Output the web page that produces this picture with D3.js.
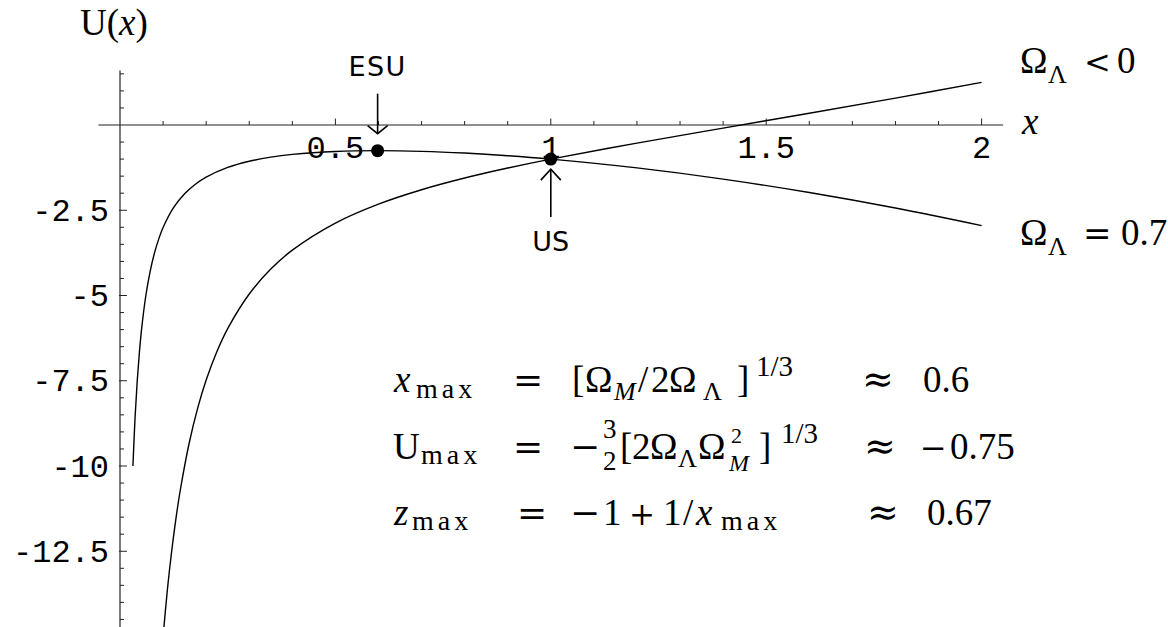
<!DOCTYPE html>
<html>
<head>
<meta charset="utf-8">
<script src="https://cdn.jsdelivr.net/npm/d3@7"></script>
<style>
  html, body { margin: 0; padding: 0; background: #fff; }
  svg { display: block; }
  .tick-label { font-family: "Liberation Mono", "DejaVu Sans Mono", monospace; font-size: 32px; fill: #000; }
  .math { font-family: "Liberation Serif", "DejaVu Serif", serif; font-size: 37px; fill: #000; }
  .note { font-family: "DejaVu Sans", sans-serif; font-size: 27px; fill: #000; }
</style>
</head>
<body>
<svg id="chart" width="1168" height="627"></svg>
<script>
// Effective potential U(x) = -Ω_M/x - Ω_Λ x², sampled values for two cosmologies.

// Ω_M = 0.3, Ω_Λ = 0.7
const xLambdaPos = [0.03, 0.035, 0.04, 0.045, 0.05, 0.06, 0.07, 0.08, 0.09, 0.1, 0.125, 0.15, 0.175, 0.2,
                    0.25, 0.3, 0.35, 0.4, 0.5, 0.6, 0.7, 0.8, 0.9, 1.0, 1.2, 1.4, 1.6, 1.8, 2.0];
const uLambdaPos = [-10.0, -8.57, -7.5, -6.67, -6.0, -5.0, -4.29, -3.755, -3.339, -3.007, -2.411, -2.016, -1.736, -1.528,
                    -1.244, -1.063, -0.943, -0.862, -0.775, -0.752, -0.772, -0.823, -0.9, -1.0, -1.258, -1.586, -1.98, -2.435, -2.95];

// Ω_M = 1.5, Ω_Λ = -0.5
const xLambdaNeg = [0.1, 0.11, 0.12, 0.13, 0.14, 0.16, 0.18, 0.2, 0.225, 0.25, 0.3, 0.35, 0.4, 0.5,
                    0.6, 0.7, 0.8, 0.9, 1.0, 1.2, 1.4, 1.6, 1.8, 2.0];
const uLambdaNeg = [-14.995, -13.63, -12.493, -11.53, -10.704, -9.362, -8.317, -7.48, -6.641, -5.969, -4.955, -4.225, -3.67, -2.875,
                    -2.32, -1.898, -1.555, -1.262, -1.0, -0.53, -0.091, 0.343, 0.787, 1.25];

// Marked states: Einstein static universe and the present universe
const markX = [0.598, 1.0];
const markU = [-0.752, -1.0];
const markNames = ["ESU", "US"];

// Axes
const xMajorTicks = [0.5, 1, 1.5, 2];
const xMajorLabels = ["0.5", "1", "1.5", "2"];
const yMajorTicks = [-2.5, -5, -7.5, -10, -12.5];
const yMajorLabels = ["-2.5", "-5", "-7.5", "-10", "-12.5"];

const svg = d3.select("#chart");
const W = 1168, H = 627;

const x = d3.scaleLinear().domain([0, 2]).range([120, 981.6]);
const y = d3.scaleLinear().domain([0, -10]).range([125, 466]);

const xMinor = d3.range(1, 21).map(i => i / 10).filter(v => !xMajorTicks.some(m => Math.abs(m - v) < 1e-9));
const yMinor = d3.range(-29, 4).map(i => i / 2).filter(v => v !== 0 && !yMajorTicks.includes(v));

// ---- x axis (ticks point up, labels below) ----
const gx = svg.append("g").attr("transform", `translate(0,${y(0)})`);
gx.append("line").attr("x1", x(-0.05)).attr("x2", x(2.05)).attr("stroke", "#222").attr("stroke-width", 1.2);
gx.selectAll(".xminor").data(xMinor).join("line")
  .attr("x1", d => x(d)).attr("x2", d => x(d)).attr("y1", 0).attr("y2", -4)
  .attr("stroke", "#222").attr("stroke-width", 1);
gx.selectAll(".xmajor").data(xMajorTicks).join("line")
  .attr("x1", d => x(d)).attr("x2", d => x(d)).attr("y1", 0).attr("y2", -6.5)
  .attr("stroke", "#222").attr("stroke-width", 1);

// ---- y axis (ticks point right, labels left) ----
const gy = svg.append("g").attr("transform", `translate(${x(0)},0)`);
gy.append("line").attr("y1", y(1.6)).attr("y2", H).attr("stroke", "#222").attr("stroke-width", 1.2);
gy.selectAll(".yminor").data(yMinor).join("line")
  .attr("y1", d => y(d)).attr("y2", d => y(d)).attr("x1", 0).attr("x2", 4)
  .attr("stroke", "#222").attr("stroke-width", 1);
gy.selectAll(".ymajor").data(yMajorTicks).join("line")
  .attr("y1", d => y(d)).attr("y2", d => y(d)).attr("x1", -1).attr("x2", 7)
  .attr("stroke", "#222").attr("stroke-width", 1);

// ---- curves ----
svg.append("clipPath").attr("id", "plotClip")
  .append("rect").attr("x", 0).attr("y", 0).attr("width", W).attr("height", H);

const line = d3.line().x(d => x(d[0])).y(d => y(d[1])).curve(d3.curveCatmullRom.alpha(0.5));
const curves = [d3.zip(xLambdaPos, uLambdaPos), d3.zip(xLambdaNeg, uLambdaNeg)];
svg.append("g").attr("clip-path", "url(#plotClip)")
  .selectAll("path").data(curves).join("path")
  .attr("d", line).attr("fill", "none").attr("stroke", "#000").attr("stroke-width", 1.4);

// ---- tick labels (drawn over the curves) ----
svg.selectAll(".xl").data(xMajorTicks).join("text")
  .attr("class", "tick-label").attr("text-anchor", "middle")
  .attr("x", d => x(d)).attr("y", y(0) + 33)
  .text((d, i) => xMajorLabels[i]);
svg.selectAll(".yl").data(yMajorTicks).join("text")
  .attr("class", "tick-label").attr("text-anchor", "end")
  .attr("x", x(0) - 11).attr("y", d => y(d)).attr("dy", "0.33em")
  .text((d, i) => yMajorLabels[i]);

// ---- marked points with arrows ----
svg.selectAll(".pt").data(markX).join("circle")
  .attr("cx", d => x(d)).attr("cy", (d, i) => y(markU[i])).attr("r", 6.5).attr("fill", "#000");

function arrow(xp, yTip, yTail, headLen) {
  const dir = yTail > yTip ? 1 : -1;
  const g = svg.append("g").attr("stroke", "#000").attr("stroke-width", 1.6).attr("fill", "none");
  g.append("line").attr("x1", xp).attr("x2", xp).attr("y1", yTail).attr("y2", yTip);
  g.append("path").attr("d", `M${xp - 10},${yTip + dir * headLen}L${xp},${yTip}L${xp + 10},${yTip + dir * headLen}`);
}
// ESU: label above, arrow pointing down
arrow(x(markX[0]), y(markU[0]) - 17, y(markU[0]) - 57, 8);
svg.append("text").attr("class", "note").attr("text-anchor", "middle")
  .attr("x", x(markX[0])).attr("y", 76).attr("letter-spacing", 1.5).text(markNames[0]);
// US: label below, arrow pointing up
arrow(x(markX[1]), y(markU[1]) + 10, y(markU[1]) + 58, 11);
svg.append("text").attr("class", "note").attr("text-anchor", "middle")
  .attr("x", x(markX[1])).attr("y", 251).text(markNames[1]);

// ---- math text helper: one <text> per expression, pieces as tspans ----
// k: "sub" | "sup" | "num" | "den" | undefined (baseline); rel: draw with the symbol font
const SHIFT = { sub: 8, sup: -15, num: -21, den: 11 };
const SIZE = { sub: 26, sup: 27, num: 27, den: 27 };
function mathText(px, py, runs, opts = {}) {
  const t = svg.append("text").attr("class", "math").attr("x", px).attr("y", py);
  if (opts.size) t.attr("font-size", opts.size);
  if (opts.fill) t.attr("fill", opts.fill);
  let shift = 0;
  runs.forEach(r => {
    const target = r.k ? (r.shift != null ? r.shift : SHIFT[r.k]) : 0;
    const ts = t.append("tspan").text(r.t).attr("dy", target - shift);
    shift = target;
    const size = r.size || (r.k ? SIZE[r.k] : null);
    if (size) ts.attr("font-size", size);
    if (r.rel) ts.attr("font-family", "DejaVu Serif").attr("font-size", r.size || 36);
    if (r.it) ts.attr("font-style", "italic");
    if (r.x != null) ts.attr("x", r.x);
    if (r.ls != null) ts.attr("letter-spacing", r.ls);
  });
  return t;
}

// axis titles
mathText(80, 35, [{ t: "U(" }, { t: "x", it: true }, { t: ")" }], { size: 30 });
mathText(1022, 134, [{ t: "x", it: true }], { size: 25 });

// curve labels
mathText(1020, 73, [
  { t: "Ω" }, { t: "Λ", k: "sub", size: 26, shift: 10, x: 1048 },
  { t: "<", rel: true, size: 32, x: 1084 }, { t: "0", x: 1117 }
], { size: 32 });
mathText(1020, 245, [
  { t: "Ω" }, { t: "Λ", k: "sub", size: 26, shift: 10, x: 1048 },
  { t: "=", rel: true, size: 34, x: 1083 }, { t: "0.7", x: 1121 }
], { size: 32 });

// turning-point formulas
mathText(394, 392, [
  { t: "x", it: true }, { t: "max", k: "sub", size: 28, ls: 4, shift: 6, x: 416 },
  { t: "=", rel: true, x: 513 },
  { t: "[", x: 572 }, { t: "Ω", x: 585 }, { t: "M", k: "sub", it: true, x: 614 },
  { t: "/", x: 638 }, { t: "2", x: 651 }, { t: "Ω", x: 669 }, { t: "Λ", k: "sub", x: 703 },
  { t: "]", x: 737 }, { t: "1/3", k: "sup", shift: -16, size: 29, x: 756 },
  { t: "≈", rel: true, size: 38, x: 862 }, { t: "0.6", x: 923 }
]);

mathText(393, 459, [
  { t: "U" }, { t: "max", k: "sub", size: 28, ls: 4, shift: 5, x: 421 },
  { t: "=", rel: true, x: 513 },
  { t: "−", rel: true, x: 570 },
  { t: "3", k: "num", x: 603 }, { t: "2", k: "den", x: 603 },
  { t: "[", x: 620 }, { t: "2", x: 632 }, { t: "Ω", x: 650 }, { t: "Λ", k: "sub", x: 678 },
  { t: "Ω", x: 698 }, { t: "2", k: "sup", size: 22, shift: -16, x: 731 },
  { t: "M", k: "sub", it: true, size: 24, shift: 12, x: 729 },
  { t: "]", x: 759 }, { t: "1/3", k: "sup", shift: -16, size: 29, x: 781 },
  { t: "≈", rel: true, size: 38, x: 864 }, { t: "−", rel: true, size: 32, x: 920 }, { t: "0.75", x: 950 }
]);

mathText(394, 525, [
  { t: "z", it: true }, { t: "max", k: "sub", size: 28, ls: 4, shift: 5, x: 412 },
  { t: "=", rel: true, x: 517 },
  { t: "−", rel: true, x: 570 }, { t: "1", x: 603 },
  { t: "+", rel: true, size: 31, x: 629 }, { t: "1", x: 663 }, { t: "/", x: 683 },
  { t: "x", it: true, x: 696 }, { t: "max", k: "sub", size: 28, ls: 4, shift: 5, x: 721 },
  { t: "≈", rel: true, size: 38, x: 867 }, { t: "0.67", x: 927 }
], { fill: "#ff0000" });
</script>
</body>
</html>
